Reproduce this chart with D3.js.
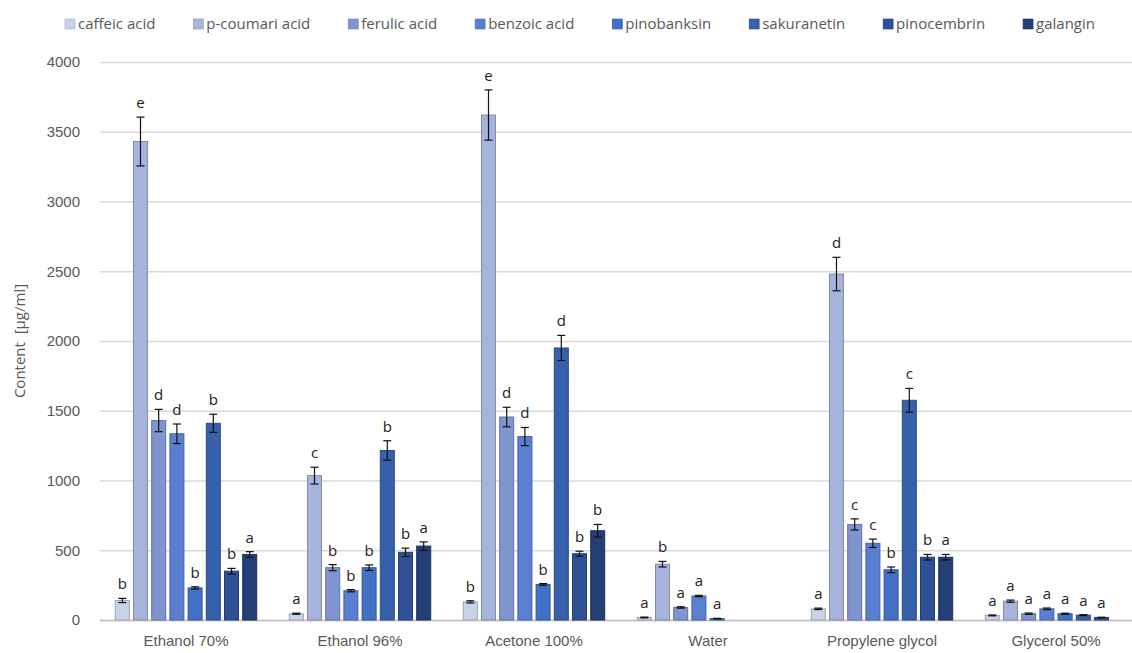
<!DOCTYPE html>
<html>
<head>
<meta charset="utf-8">
<script src="https://cdn.jsdelivr.net/npm/d3@7"></script>
<style>
  body { margin: 0; background: #fff; }
  svg { display: block; font-family: 'Open Sans', 'Noto Sans', sans-serif; }
</style>
</head>
<body>
<svg id="chart" width="1132" height="653"></svg>
<script>
const categories = ['Ethanol 70%', 'Ethanol 96%', 'Acetone 100%', 'Water', 'Propylene glycol', 'Glycerol 50%'];
const compounds = ['caffeic acid', 'p-coumari acid', 'ferulic acid', 'benzoic acid',
  'pinobanksin', 'sakuranetin', 'pinocembrin', 'galangin'];
const colors = ['#c9d2e9', '#a6b3dd', '#8094d0', '#5b7fd0', '#4170c4', '#3760aa', '#2e5196', '#243f76'];
const yTicks = [0, 500, 1000, 1500, 2000, 2500, 3000, 3500, 4000];

// one row per category, one value per compound (0 = not detected)
const ethanol70 = [140, 3430, 1430, 1335, 230, 1410, 350, 470];
const ethanol96 = [45, 1035, 375, 210, 375, 1215, 485, 530];
const acetone100 = [130, 3620, 1455, 1315, 255, 1950, 475, 640];
const water = [18, 400, 90, 172, 10, 0, 0, 0];
const propyleneGlycol = [80, 2480, 685, 550, 360, 1575, 450, 450];
const glycerol50 = [33, 135, 45, 80, 45, 35, 18, 0];

const err70 = [15, 175, 80, 70, 8, 65, 20, 20];
const err96 = [4, 60, 22, 8, 20, 70, 30, 30];
const errAcetone = [8, 180, 70, 65, 6, 90, 18, 45];
const errWater = [3, 20, 5, 5, 2, 0, 0, 0];
const errPropylene = [5, 120, 40, 30, 20, 85, 20, 20];
const errGlycerol = [3, 8, 5, 6, 4, 3, 2, 0];

const letters70 = ['b', 'e', 'd', 'd', 'b', 'b', 'b', 'a'];
const letters96 = ['a', 'c', 'b', 'b', 'b', 'b', 'b', 'a'];
const lettersAcetone = ['b', 'e', 'd', 'd', 'b', 'd', 'b', 'b'];
const lettersWater = ['a', 'b', 'a', 'a', 'a', '', '', ''];
const lettersPropylene = ['a', 'd', 'c', 'c', 'b', 'c', 'b', 'a'];
const lettersGlycerol = ['a', 'a', 'a', 'a', 'a', 'a', 'a', ''];

const values = [ethanol70, ethanol96, acetone100, water, propyleneGlycol, glycerol50];
const errors = [err70, err96, errAcetone, errWater, errPropylene, errGlycerol];
const letters = [letters70, letters96, lettersAcetone, lettersWater, lettersPropylene, lettersGlycerol];

const rows = categories.map((cat, i) => ({
  cat,
  bars: compounds.map((name, j) => ({
    name, j, v: values[i][j], e: errors[i][j], l: letters[i][j],
  })).filter((d) => d.v > 0),
}));

const W = 1132;
const left = 99;
const svg = d3.select('#chart');
const textColor = '#595959';

const x0 = d3.scaleBand().domain(categories).range([left, left + 6 * 174]);
const x1 = d3.scaleBand().domain(compounds).range([0, x0.bandwidth()])
  .paddingInner(0.23).paddingOuter(0.895);
const y = d3.scaleLinear().domain([0, 4000]).range([620, 62]);
const color = d3.scaleOrdinal().domain(compounds).range(colors);

// gridlines + y labels
svg.append('g')
  .attr('transform', `translate(${left + 1},0)`)
  .call(d3.axisLeft(y).tickValues(yTicks).tickFormat(d3.format('d'))
    .tickSize(-(W - left)).tickPadding(20))
  .call((g) => g.select('.domain').remove())
  .call((g) => g.selectAll('line').attr('stroke', '#d9d9d9').attr('stroke-width', 1.3))
  .call((g) => g.selectAll('text')
    .attr('fill', textColor)
    .style('font-size', '15px'));

// x axis
svg.append('g')
  .attr('transform', 'translate(0,620)')
  .call(d3.axisBottom(x0).tickSize(0).tickPadding(15))
  .call((g) => g.select('.domain').attr('stroke', '#bfbfbf').attr('stroke-width', 1.3))
  .call((g) => g.selectAll('text')
    .attr('fill', textColor)
    .style('font-size', '15px'));

// y title
svg.append('text')
  .attr('transform', 'translate(25,341) rotate(-90)')
  .attr('text-anchor', 'middle')
  .attr('fill', textColor)
  .style('font-size', '15px')
  .style('white-space', 'pre')
  .text('Content  [µg/ml]');

const groups = svg.append('g')
  .selectAll('g')
  .data(rows)
  .join('g')
  .attr('transform', (d) => `translate(${x0(d.cat)},0)`);

// bars
groups.selectAll('rect')
  .data((d) => d.bars)
  .join('rect')
  .attr('x', (d) => x1(d.name))
  .attr('y', (d) => y(d.v))
  .attr('width', x1.bandwidth())
  .attr('height', (d) => y(0) - y(d.v))
  .attr('fill', (d) => color(d.name))
  .attr('stroke', (d) => d3.color(color(d.name)).darker(0.7))
  .attr('stroke-width', 1);

// error bars
const cap = 4;
groups.selectAll('g.err')
  .data((d) => d.bars.filter((b) => b.e > 0))
  .join('g')
  .attr('class', 'err')
  .attr('stroke', '#111')
  .attr('stroke-width', 1.2)
  .call((g) => g.append('line')
    .attr('x1', (d) => x1(d.name) + x1.bandwidth() / 2)
    .attr('x2', (d) => x1(d.name) + x1.bandwidth() / 2)
    .attr('y1', (d) => y(d.v + d.e))
    .attr('y2', (d) => y(Math.max(0, d.v - d.e))))
  .call((g) => g.append('line')
    .attr('x1', (d) => x1(d.name) + x1.bandwidth() / 2 - cap)
    .attr('x2', (d) => x1(d.name) + x1.bandwidth() / 2 + cap)
    .attr('y1', (d) => y(d.v + d.e))
    .attr('y2', (d) => y(d.v + d.e)))
  .call((g) => g.append('line')
    .attr('x1', (d) => x1(d.name) + x1.bandwidth() / 2 - cap)
    .attr('x2', (d) => x1(d.name) + x1.bandwidth() / 2 + cap)
    .attr('y1', (d) => y(Math.max(0, d.v - d.e)))
    .attr('y2', (d) => y(Math.max(0, d.v - d.e))));

// significance letters
groups.selectAll('text.sig')
  .data((d) => d.bars.filter((b) => b.l))
  .join('text')
  .attr('class', 'sig')
  .attr('x', (d) => x1(d.name) + x1.bandwidth() / 2)
  .attr('y', (d) => y(d.v + d.e) - 9)
  .attr('text-anchor', 'middle')
  .attr('fill', '#222')
  .style('font-size', '15px')
  .text((d) => d.l);

// legend, spread across the top from x=65 to about x=1095
const legend = svg.append('g').attr('transform', 'translate(65,0)');
const items = compounds.map((name) => {
  const item = legend.append('g');
  item.append('rect')
    .attr('x', 0)
    .attr('y', 19)
    .attr('width', 10)
    .attr('height', 10)
    .attr('fill', color(name))
    .attr('stroke', d3.color(color(name)).darker(0.5))
    .attr('stroke-width', 0.6);
  const t = item.append('text')
    .attr('x', 13)
    .attr('y', 29)
    .attr('fill', textColor)
    .style('font-size', '15px')
    .text(name);
  return { item, w: 13 + t.node().getComputedTextLength() };
});
const gap = (1030 - d3.sum(items, (d) => d.w)) / (items.length - 1);
let lx = 0;
items.forEach((d) => {
  d.item.attr('transform', `translate(${lx},0)`);
  lx += d.w + gap;
});
</script>
</body>
</html>
